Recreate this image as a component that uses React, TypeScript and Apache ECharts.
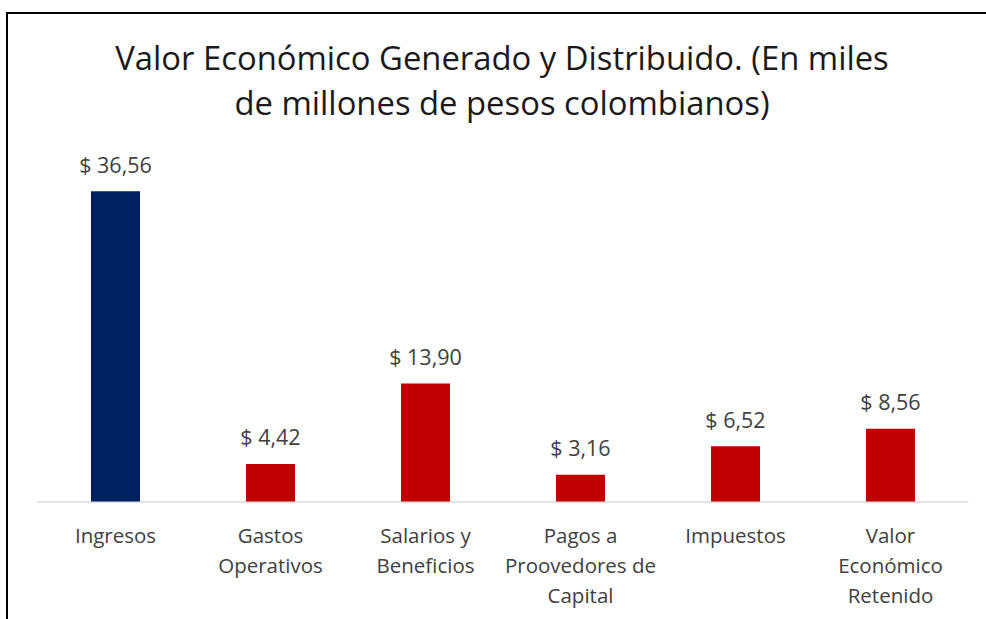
import React, { useEffect, useRef } from "react";
import * as echarts from "echarts";

const categories = [
  "Ingresos",
  "Gastos\nOperativos",
  "Salarios y\nBeneficios",
  "Pagos a\nProovedores de\nCapital",
  "Impuestos",
  "Valor\nEconómico\nRetenido",
];
const values = [36.56, 4.42, 13.9, 3.16, 6.52, 8.56];
const barColors = ["#002060", "#C00000", "#C00000", "#C00000", "#C00000", "#C00000"];
const titleText = "Valor Económico Generado y Distribuido. (En miles\nde millones de pesos colombianos)";

const FONT = "'Open Sans', sans-serif";

export default function App() {
  const ref = useRef<HTMLDivElement>(null);
  useEffect(() => {
    if (!ref.current) return;
    const chart = echarts.init(ref.current, undefined, { renderer: "svg" });
    chart.setOption({
      animation: false,
      backgroundColor: "#ffffff",
      textStyle: { fontFamily: FONT },
      grid: { left: 38, right: 18, top: 162, bottom: 117.5, containLabel: false },
      xAxis: {
        type: "category",
        data: categories,
        axisLine: { lineStyle: { color: "#D9D9D9", width: 1.5 } },
        axisTick: { show: false },
        axisLabel: {
          interval: 0,
          fontSize: 20.5,
          lineHeight: 30,
          margin: 18,
          color: "#404040",
          fontFamily: FONT,
        },
      },
      yAxis: { type: "value", min: 0, max: 40, show: false, splitLine: { show: false } },
      series: [
        {
          type: "bar",
          barWidth: 49,
          data: values.map((v, i) => ({ value: v, itemStyle: { color: barColors[i] } })),
          label: {
            show: true,
            position: "top",
            distance: 16,
            fontSize: 21.5,
            color: "#404040",
            fontFamily: FONT,
            formatter: (p: any) => "$ " + Number(p.value).toFixed(2).replace(".", ","),
          },
        },
      ],
      graphic: [
        {
          type: "text",
          x: 502,
          y: 80,
          style: {
            text: titleText,
            fontSize: 32.8,
            lineHeight: 45,
            fontFamily: FONT,
            fill: "#1a1a1a",
            align: "center",
            verticalAlign: "middle",
          },
        },
        { type: "line", shape: { x1: 7, y1: 13, x2: 986, y2: 13 }, style: { stroke: "#000", lineWidth: 2 } },
        { type: "line", shape: { x1: 7, y1: 12, x2: 7, y2: 619 }, style: { stroke: "#000", lineWidth: 2 } },
      ],
    });
    return () => chart.dispose();
  }, []);
  return (
    <div
      ref={ref}
      style={{ position: "fixed", left: 0, top: 0, width: 986, height: 619, background: "#fff" }}
    />
  );
}
